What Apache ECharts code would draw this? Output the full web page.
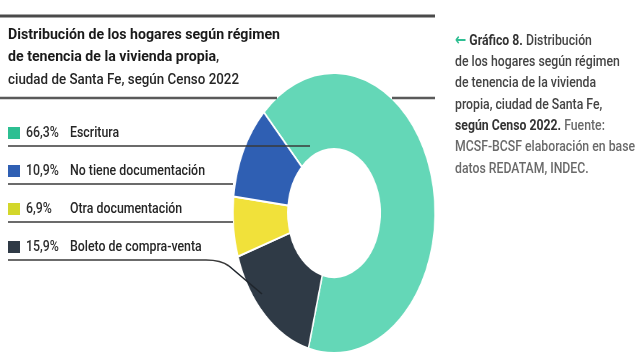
<!DOCTYPE html>
<html><head><meta charset="utf-8">
<script src="https://cdn.jsdelivr.net/npm/echarts@6/dist/echarts.min.js"></script>
<style>
html,body{margin:0;padding:0;background:#fff;width:642px;height:361px;overflow:hidden;position:relative;}
#pie{position:absolute;left:134px;top:0;width:400px;height:361px;transform:scaleX(0.722);transform-origin:200px 213px;}
#ov{position:absolute;left:0;top:0;width:642px;height:361px;}
</style></head>
<body>
<div id="pie"></div>
<div id="ov"></div>
<script>
// ---- data ----
const categories = ['Escritura', 'No tiene documentación', 'Otra documentación', 'Boleto de compra-venta'];
const values = [66.3, 10.9, 6.9, 15.9];
const sliceColors = ['#64d7b7', '#2f5fb3', '#f1e13a', '#2f3a46'];
const legendColors = ['#2dbf92', '#2f5fb3', '#d3d72b', '#2f3a46'];
const pieOrder = [0, 3, 2, 1]; // clockwise from the upper-left boundary
const titleLines = ['Distribución de los hogares según régimen', 'de tenencia de la vivienda propia'];
const subtitle = 'ciudad de Santa Fe, según Censo 2022';
const sideNote = [
  [['arrow', '←'], ['b', ' Gráfico 8.'], ['r', ' Distribución']],
  [['r', 'de los hogares según régimen']],
  [['r', 'de tenencia de la vivienda']],
  [['r', 'propia, ciudad de Santa Fe,']],
  [['b', 'según Censo 2022.'], ['l', ' Fuente:']],
  [['l', 'MCSF-BCSF elaboración en base']],
  [['l', 'datos REDATAM, INDEC.']]
];

const FF = "Roboto,'Noto Sans',sans-serif";
const REG = '500 15.5px ' + FF, BOLD = 'bold 15.5px ' + FF;
const fmt = v => v.toFixed(1).replace('.', ',') + '%';

// condensed look: horizontal squeeze factor measured from a sample string
const mctx = document.createElement('canvas').getContext('2d');
function squeeze(font, sample, target) { mctx.font = font; return target / mctx.measureText(sample).width; }
const sqTitle = squeeze(BOLD, titleLines[0], 272);
const sqSub = squeeze(REG, subtitle, 231);
const sqText = squeeze(REG, categories[1], 135);
const sqNote = squeeze(REG, 'MCSF-BCSF elaboración en base', 180);

// ---- pie (drawn in its own layer, stretched into an ellipse) ----
const pie = echarts.init(document.getElementById('pie'), null, {renderer: 'canvas'});
pie.setOption({
  animation: false,
  series: [{
    type: 'pie',
    center: [200, 213],
    radius: [64, 140],
    startAngle: 134,
    clockwise: true,
    silent: true,
    label: {show: false},
    labelLine: {show: false},
    itemStyle: {borderColor: '#fff', borderWidth: 2},
    data: pieOrder.map(i => ({name: categories[i], value: values[i], itemStyle: {color: sliceColors[i]}}))
  }]
});

// ---- overlay: titles, rules, legend, notes ----
const ov = echarts.init(document.getElementById('ov'), null, {renderer: 'canvas'});
const g = [];
const lineStyle = (c, w) => ({stroke: c, lineWidth: w});
const VA = {textVerticalAlign: 'middle', verticalAlign: 'middle'};
// rules
g.push({type: 'line', shape: {x1: 0, y1: 16, x2: 435, y2: 16}, style: lineStyle('#4a4a4a', 3)});
g.push({type: 'line', shape: {x1: 0, y1: 98, x2: 277, y2: 98}, style: lineStyle('#5a5a5a', 2.5)});
g.push({type: 'line', shape: {x1: 392, y1: 98, x2: 435, y2: 98}, style: lineStyle('#5a5a5a', 2.5)});
// title
titleLines.forEach((t, i) => {
  g.push({type: 'text', x: 8, y: 35 + i * 22, scaleX: sqTitle, style: Object.assign({
    text: t + (i === titleLines.length - 1 ? '{c|,}' : ''), fill: '#1a1a1a', font: BOLD,
    rich: {c: {fill: '#333', font: REG}}
  }, VA)});
});
g.push({type: 'text', x: 8, y: 80, scaleX: sqSub, style: Object.assign({text: subtitle, fill: '#262626', font: REG}, VA)});
// legend
const rowY = [133, 171, 209, 247];
const lineEnd = [310, 233, 233, 206];
categories.forEach((c, i) => {
  const y = rowY[i];
  g.push({type: 'rect', shape: {x: 8, y: y - 6, width: 12, height: 12}, style: {fill: legendColors[i]}});
  g.push({type: 'text', x: 26, y: y, scaleX: sqText, style: Object.assign({text: fmt(values[i]), fill: '#2e2e2e', font: REG}, VA)});
  g.push({type: 'text', x: 70, y: y, scaleX: sqText, style: Object.assign({text: c, fill: '#262626', font: REG}, VA)});
  g.push({type: 'line', shape: {x1: 8, y1: y + 13, x2: lineEnd[i], y2: y + 13}, style: lineStyle('#3a3a3a', 1.6)});
});
const ly = rowY[3] + 13;
g.push({type: 'bezierCurve', shape: {x1: 206, y1: ly, cpx1: 221, cpy1: ly, x2: 229, y2: ly + 6}, style: {stroke: '#3a3a3a', lineWidth: 1.6, fill: null}});
g.push({type: 'line', shape: {x1: 229, y1: ly + 6, x2: 262, y2: ly + 34}, style: lineStyle('#1f252c', 1.6)});
// side note
const rich = {
  arrow: {fill: '#2fbf93', font: 'bold 17px "DejaVu Sans",sans-serif'},
  b: {fill: '#333', font: BOLD},
  r: {fill: '#444', font: REG},
  l: {fill: '#6a6a6a', font: REG}
};
sideNote.forEach((segs, i) => {
  g.push({type: 'text', x: 455, y: 41 + i * 21.3, scaleX: sqNote, style: Object.assign({
    text: segs.map(s => '{' + s[0] + '|' + s[1] + '}').join(''),
    rich: rich, font: REG
  }, VA)});
});
ov.setOption({animation: false, graphic: {elements: g}});
</script>
</body></html>
